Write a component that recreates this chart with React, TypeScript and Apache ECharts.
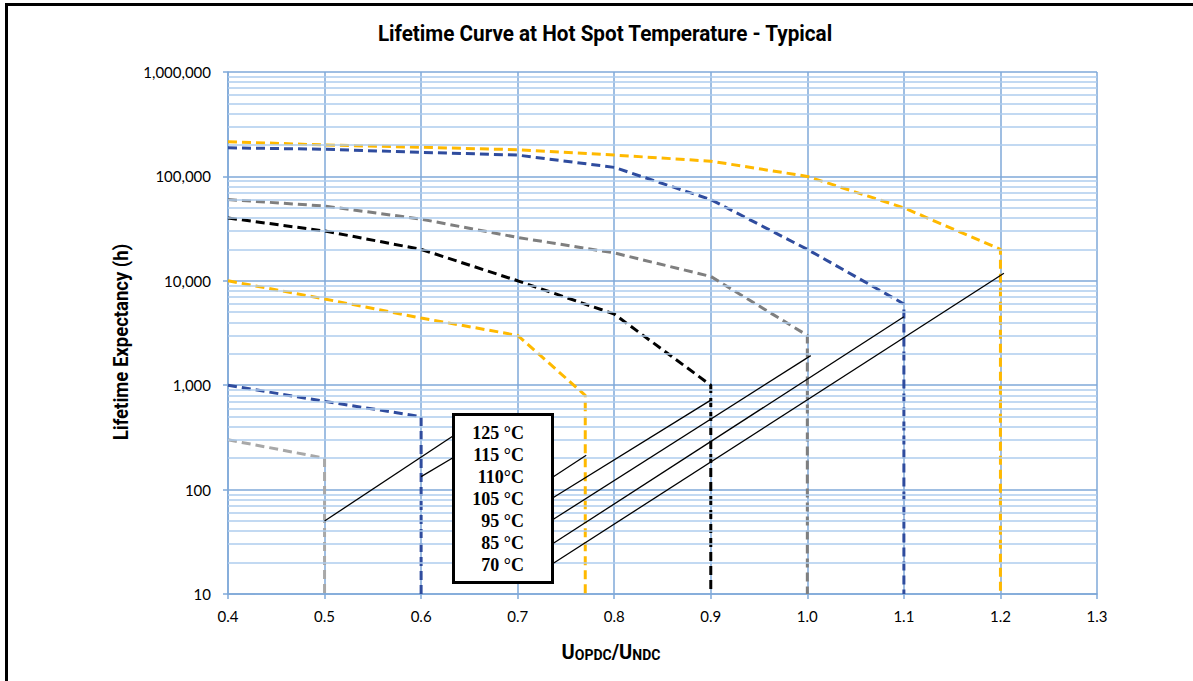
import React, { useEffect, useRef } from "react";
import * as echarts from "echarts";

// ---- data ----
const X70 = [0.4, 0.5, 0.6, 0.7, 0.8, 0.9, 1.0, 1.1, 1.2, 1.2];
const Y70 = [215000, 200000, 190000, 180000, 160000, 140000, 100000, 50000, 20000, 10];

const X85 = [0.4, 0.5, 0.6, 0.7, 0.8, 0.9, 1.0, 1.1, 1.1];
const Y85 = [188000, 182000, 170000, 160000, 122000, 60000, 20000, 6000, 10];

const X95 = [0.4, 0.5, 0.6, 0.7, 0.8, 0.9, 1.0, 1.0];
const Y95 = [60000, 52000, 39000, 26000, 18500, 11000, 3000, 10];

const X105 = [0.4, 0.5, 0.6, 0.7, 0.8, 0.9, 0.9];
const Y105 = [40000, 30000, 20000, 10000, 4800, 1000, 10];

const X110 = [0.4, 0.5, 0.6, 0.7, 0.77, 0.77];
const Y110 = [10000, 6700, 4400, 3000, 800, 10];

const X115 = [0.4, 0.5, 0.6, 0.6];
const Y115 = [1000, 700, 500, 10];

const X125 = [0.4, 0.5, 0.5];
const Y125 = [300, 200, 10];

// leader lines from the label box to each curve's drop line: [x0, y0, x1, y1]
const LEAD125 = [0.5, 50, 0.633, 326];
const LEAD115 = [0.6, 133, 0.633, 202];
const LEAD110 = [0.737, 133, 0.771, 213];
const LEAD105 = [0.737, 84, 0.9, 720];
const LEAD95 = [0.737, 52, 1.0035, 1920];
const LEAD85 = [0.737, 30.6, 1.1, 4530];
const LEAD70 = [0.737, 19.7, 1.2036, 11800];

const LABELS = ["125 °C", "115 °C", "110°C", "105 °C", "95 °C", "85 °C", "70 °C"];

const DECADES = [10, 100, 1000, 10000, 100000];
const MINOR_MULTS = [2, 3, 4, 5, 6, 7, 8, 9];

const TITLE = "Lifetime Curve at Hot Spot Temperature - Typical";
const Y_NAME = "Lifetime Expectancy (h)";

// ---- styles ----
const MAJ = "#7FA8D8";
const MIN = "#AECDEE";
const ORANGE = "#FFB900";
const BLUE = "#2F4C9E";
const GRAY = "#7F7F7F";
const LGRAY = "#A8A8A8";
const BLACK = "#000000";

function pairs(xs: number[], ys: number[]) {
  return xs.map((x, i) => [x, ys[i]]);
}

function curve(name: string, xs: number[], ys: number[], color: string) {
  return {
    name,
    type: "line",
    data: pairs(xs, ys),
    symbol: "none",
    z: 4,
    lineStyle: { color, width: 3, type: [9, 5] },
    silent: true,
  };
}

function leader(name: string, l: number[]) {
  return {
    name,
    type: "line",
    data: [
      [l[0], l[1]],
      [l[2], l[3]],
    ],
    symbol: "none",
    z: 5,
    lineStyle: { color: "#000", width: 1.3, type: "solid" },
    silent: true,
  };
}

export default function App() {
  const ref = useRef<HTMLDivElement>(null);
  useEffect(() => {
    if (!ref.current) return;
    const chart = echarts.init(ref.current, null, { renderer: "svg" });
    const minorVals: number[] = [];
    DECADES.forEach((d) => MINOR_MULTS.forEach((m) => minorVals.push(d * m)));

    const boxX = 453.5;
    const boxY = 414.5;
    const boxW = 99;
    const boxH = 168;
    const labelYs = [433, 455, 477, 499, 521, 543, 565];

    const option: any = {
      animation: false,
      grid: { left: 228, top: 72, right: 96, bottom: 87, containLabel: false },
      xAxis: {
        type: "value",
        min: 0.4,
        max: 1.3,
        interval: 0.1,
        axisLine: { show: true, onZero: false, lineStyle: { color: MAJ, width: 1.5 } },
        axisTick: { show: true, length: 5, lineStyle: { color: MAJ, width: 1.5 } },
        axisLabel: {
          formatter: (v: number) => v.toFixed(1),
          margin: 14,
          color: "#000",
          fontSize: 15,
          fontFamily: "Lato",
        },
        splitLine: { show: true, lineStyle: { color: MAJ, width: 1.5 } },
      },
      yAxis: {
        type: "log",
        logBase: 10,
        min: 10,
        max: 1000000,
        axisLine: { show: true, onZero: false, lineStyle: { color: MAJ, width: 1.5 } },
        axisTick: { show: true, length: 5, lineStyle: { color: MAJ, width: 1.5 } },
        axisLabel: {
          formatter: (v: number) => Math.round(v).toLocaleString("en-US"),
          margin: 17,
          color: "#000",
          fontSize: 15,
          fontFamily: "Lato",
        },
        splitLine: { show: true, lineStyle: { color: MAJ, width: 1.5 } },
      },
      series: [
        {
          name: "minor",
          type: "line",
          data: [[0.4, 10]],
          symbol: "none",
          z: 1,
          silent: true,
          lineStyle: { width: 0 },
          markLine: {
            silent: true,
            symbol: ["none", "none"],
            label: { show: false },
            animation: false,
            lineStyle: { color: MIN, width: 1.5, type: "solid" },
            emphasis: { disabled: true },
            data: minorVals.map((v) => ({ yAxis: v })),
          },
        },
        curve("70 °C", X70, Y70, ORANGE),
        curve("85 °C", X85, Y85, BLUE),
        curve("95 °C", X95, Y95, GRAY),
        curve("105 °C", X105, Y105, BLACK),
        curve("110 °C", X110, Y110, ORANGE),
        curve("115 °C", X115, Y115, BLUE),
        curve("125 °C", X125, Y125, LGRAY),
        leader("l125", LEAD125),
        leader("l115", LEAD115),
        leader("l110", LEAD110),
        leader("l105", LEAD105),
        leader("l95", LEAD95),
        leader("l85", LEAD85),
        leader("l70", LEAD70),
      ],
      graphic: [
        {
          type: "rect",
          shape: { x: 6.5, y: 4.5, width: 1300, height: 900 },
          style: { fill: "none", stroke: "#000", lineWidth: 3 },
          z: 10,
          silent: true,
        },
        {
          type: "text",
          x: 605,
          y: 33,
          scaleX: 0.94,
          style: {
            text: TITLE,
            fontFamily: "Roboto",
            fontWeight: "bold",
            fontSize: 22,
            fill: "#000",
            textAlign: "center",
            textVerticalAlign: "middle",
          },
          silent: true,
        },
        {
          type: "text",
          x: 121,
          y: 342,
          rotation: Math.PI / 2,
          scaleX: 0.95,
          style: {
            text: Y_NAME,
            fontFamily: "Roboto",
            fontWeight: "bold",
            fontSize: 19.5,
            fill: "#000",
            textAlign: "center",
            textVerticalAlign: "middle",
          },
          silent: true,
        },
        {
          type: "text",
          x: 611,
          y: 650,
          style: {
            text: "{u|U}{s|OPDC}{u|/U}{s|NDC}",
            textAlign: "center",
            textVerticalAlign: "middle",
            rich: {
              u: {
                fontFamily: "Roboto",
                fontWeight: "bold",
                fontSize: 20,
                lineHeight: 24,
                verticalAlign: "bottom",
                fill: "#000",
              },
              s: {
                fontFamily: "Roboto",
                fontWeight: "bold",
                fontSize: 14,
                lineHeight: 17,
                verticalAlign: "bottom",
                fill: "#000",
              },
            },
          },
          silent: true,
        },
        {
          type: "rect",
          shape: { x: boxX, y: boxY, width: boxW, height: boxH },
          style: { fill: "#fff", stroke: "#000", lineWidth: 3 },
          z: 20,
          silent: true,
        },
        ...LABELS.map((t, i) => ({
          type: "text",
          x: 524,
          y: labelYs[i],
          z: 21,
          style: {
            text: t,
            fontFamily: "Liberation Serif",
            fontWeight: "bold",
            fontSize: 18,
            fill: "#000",
            textAlign: "right",
            textVerticalAlign: "middle",
          },
          silent: true,
        })),
      ],
    };
    chart.setOption(option);
    return () => chart.dispose();
  }, []);
  return (
    <div
      ref={ref}
      style={{ position: "fixed", left: 0, top: 0, width: 1193, height: 681, background: "#fff" }}
    />
  );
}
